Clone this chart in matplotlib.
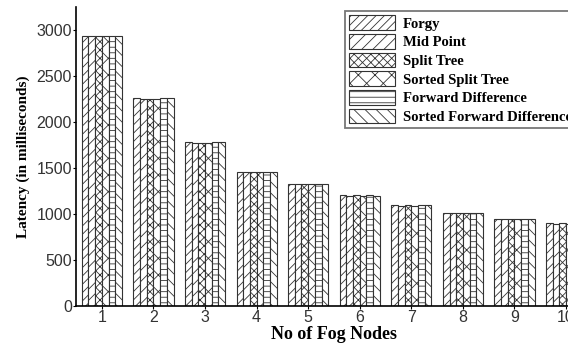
import matplotlib
matplotlib.use("Agg")
import matplotlib.pyplot as plt
import numpy as np

nodes = [1, 2, 3, 4, 5, 6, 7, 8, 9, 10]
series_names = ["Forgy", "Mid Point", "Split Tree", "Sorted Split Tree",
                "Forward Difference", "Sorted Forward Difference"]
forgy = [2930, 2255, 1780, 1460, 1330, 1205, 1095, 1010, 945, 900]
mid_point = [2930, 2250, 1775, 1460, 1325, 1200, 1090, 1005, 940, 895]
split_tree = [2930, 2250, 1775, 1460, 1330, 1205, 1095, 1010, 945, 900]
sorted_split_tree = [2930, 2250, 1775, 1455, 1325, 1200, 1090, 1005, 940, 895]
forward_diff = [2930, 2255, 1780, 1460, 1330, 1205, 1095, 1010, 945, 900]
sorted_forward_diff = [2930, 2255, 1780, 1460, 1330, 1200, 1095, 1005, 940, 895]
all_series = [forgy, mid_point, split_tree, sorted_split_tree, forward_diff, sorted_forward_diff]
hatches = ["////", "///", "xxxx", "xx", "---", "\\\\\\"]
yticks = [0, 500, 1000, 1500, 2000, 2500, 3000]

plt.rcParams["hatch.linewidth"] = 0.6
plt.rcParams["hatch.color"] = "#444444"

fig = plt.figure(figsize=(5.68, 3.43), dpi=100)
ax = fig.add_axes([0.134, 0.108, 0.908, 0.872])

x = np.array(nodes, dtype=float)
n = len(all_series)
w = 0.13
for i, (vals, h, name) in enumerate(zip(all_series, hatches, series_names)):
    ax.bar(x + (i - (n - 1) / 2) * w, vals, width=w, facecolor="white",
           edgecolor="#333333", linewidth=0.8, hatch=h, label=name)

ax.set_xlim(0.5, 10.5)
ax.set_ylim(0, 3250)
ax.set_xticks(nodes)
ax.set_xticklabels([str(v) for v in nodes], fontfamily="Liberation Sans", fontsize=11.5, color="#333333")
ax.set_yticks(yticks)
ax.set_yticklabels([str(v) for v in yticks], fontfamily="Liberation Sans", fontsize=11.5, color="#333333")
ax.tick_params(axis="both", length=2, width=0.8, pad=1)
for s in ["top", "right"]:
    ax.spines[s].set_visible(False)
ax.spines["left"].set_linewidth(1.2)
ax.spines["bottom"].set_linewidth(1.2)

ax.set_ylabel("Latency (in milliseconds)", fontfamily="Liberation Serif",
              fontweight="bold", fontsize=11, labelpad=5)
ax.set_xlabel("No of Fog Nodes", fontfamily="Liberation Serif",
              fontweight="bold", fontsize=13)
ax.xaxis.set_label_coords(0.5, -0.066)

leg = ax.legend(loc="upper left", bbox_to_anchor=(0.607, 0.968),
                bbox_transform=fig.transFigure,
                prop={"family": "Liberation Serif", "weight": "bold", "size": 10.5},
                handlelength=3.15, handleheight=1.15, labelspacing=0.24,
                handletextpad=0.55, borderpad=0.3, borderaxespad=0,
                fancybox=False, edgecolor="#777777", framealpha=1)
leg.get_frame().set_linewidth(1.3)

fig.savefig("out.png", dpi=100)
